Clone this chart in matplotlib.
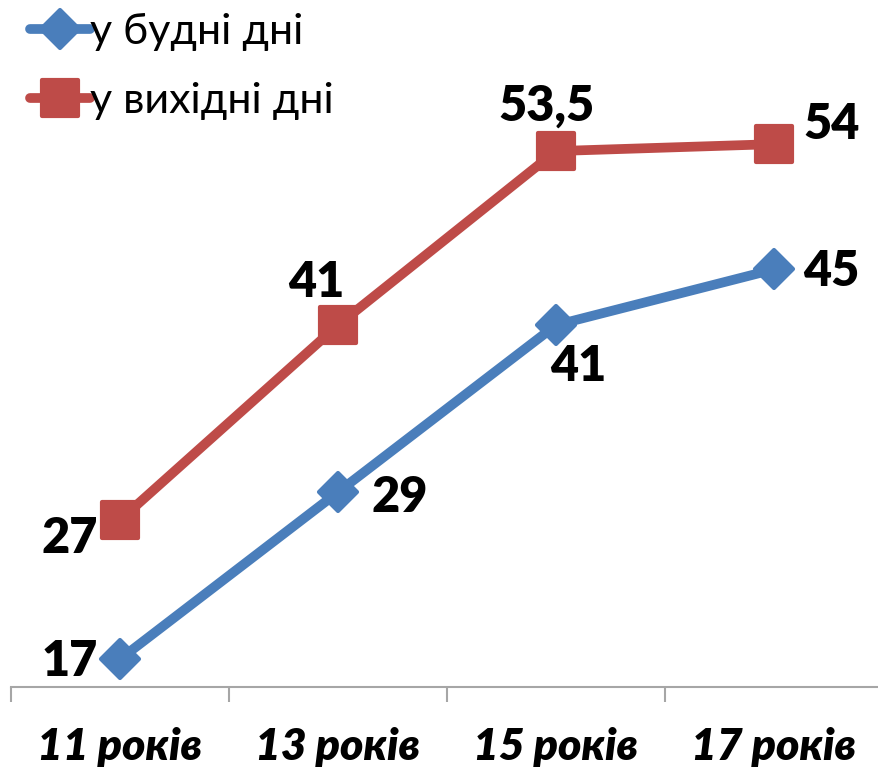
import matplotlib
matplotlib.use("Agg")
import matplotlib.pyplot as plt
from matplotlib.markers import MarkerStyle

# data
categories = ["11 років", "13 років", "15 років", "17 років"]
weekdays = [17, 29, 41, 45]
weekends = [27, 41, 53.5, 54]
series_names = ["у будні дні", "у вихідні дні"]

# label placement (offset points from the marker, baseline-anchored)
weekday_offsets = [(-16, -12, "right"), (24, -14, "left"), (16, -40, "center"), (21, -12, "left")]
weekend_offsets = [(-16, -24, "right"), (-16, 20, "center"), (-7, 22, "center"), (21, 4, "left")]

blue = "#4A7EBB"
red = "#BE4B48"
font = ["Lato", "Noto Sans", "DejaVu Sans"]
plt.rcParams["font.family"] = font

fig = plt.figure(figsize=(8.79, 7.73), dpi=100)
ax = fig.add_axes([11 / 879, 86 / 773, 872 / 879, 696 / 773])

x = list(range(len(categories)))
diamond = MarkerStyle("D", joinstyle="round")
square = MarkerStyle("s", joinstyle="round")
ax.plot(x, weekdays, color=blue, lw=7, marker=diamond, ms=19, mew=3,
        mfc=blue, mec=blue, solid_capstyle="round", label=series_names[0], zorder=3)
ax.plot(x, weekends, color=red, lw=7, marker=square, ms=26, mew=3,
        mfc=red, mec=red, solid_capstyle="round", label=series_names[1], zorder=3)


def fmt(v):
    return f"{v:g}".replace(".", ",")


for vals, offs in ((weekdays, weekday_offsets), (weekends, weekend_offsets)):
    for xi, v, (dx, dy, ha) in zip(x, vals, offs):
        ax.annotate(fmt(v), (xi, v), xytext=(dx, dy), textcoords="offset points",
                    ha=ha, va="baseline", fontsize=35, fontweight="heavy", color="black")

ax.set_xlim(-0.5, 3.5)
ax.set_ylim(15, 65)
ax.set_yticks([])
for side in ("left", "right", "top"):
    ax.spines[side].set_visible(False)
ax.spines["bottom"].set_color("#A6A6A6")
ax.spines["bottom"].set_linewidth(1.5)

ax.set_xticks(x)
ax.set_xticklabels(categories, fontsize=32, fontweight="heavy", fontstyle="italic")
ax.tick_params(axis="x", which="major", length=0, pad=29)
ax.set_xticks([-0.5, 0.5, 1.5, 2.5, 3.5], minor=True)
ax.tick_params(axis="x", which="minor", length=11, width=1.5, color="#A6A6A6", direction="out")

ax.legend(loc="upper left", bbox_to_anchor=(0.014, 1.005), bbox_transform=fig.transFigure,
          frameon=False, fontsize=31, handlelength=1.4, handletextpad=0.0,
          labelspacing=0.72, borderaxespad=0)

fig.savefig("out.png", dpi=100, facecolor="white")
